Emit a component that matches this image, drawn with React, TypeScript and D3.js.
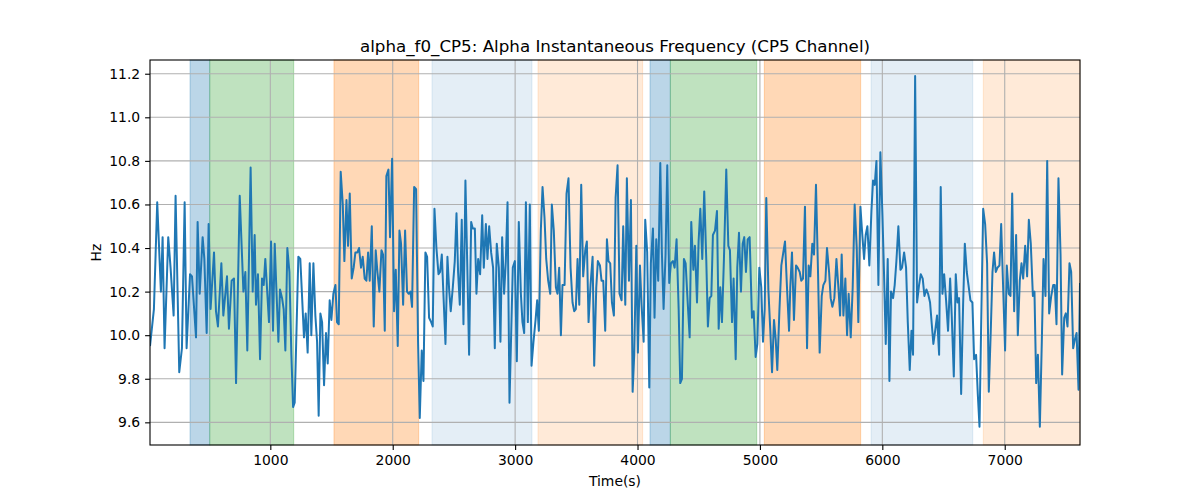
import { useRef, useEffect } from "react";
import * as d3 from "d3";

const TITLE = "alpha_f0_CP5: Alpha Instantaneous Frequency (CP5 Channel)";

// time (s) of each vertex of the frequency trace
const TIMES = [
  17, 49, 76, 106, 120, 136, 166, 185, 210, 226, 256, 278, 300, 316, 344, 360, 393, 406, 423, 447,
  461, 480, 496, 512, 540, 556, 572, 600, 616, 646, 662, 684, 703, 720, 750, 780, 796, 812, 839, 856,
  872, 883, 899, 916, 932, 946, 959, 989, 1006, 1022, 1036,
  1049, 1066, 1079, 1096, 1109, 1123, 1139, 1156, 1172, 1186, 1199, 1229, 1245, 1275, 1289, 1305, 1322, 1335, 1352, 1368,
  1382, 1395, 1409, 1423, 1439, 1455, 1469, 1485, 1499, 1515, 1532, 1545, 1559, 1575, 1592, 1605, 1622, 1635, 1649, 1665,
  1681, 1695, 1711, 1725, 1741, 1755, 1771, 1785, 1799, 1812, 1829, 1845, 1861, 1875, 1891, 1908, 1921, 1935, 1948, 1965,
  1978, 1995, 2011,
  2025, 2041, 2055, 2068, 2085, 2101, 2117, 2131, 2145, 2158, 2175, 2191, 2207, 2221, 2237, 2251, 2267, 2281, 2297, 2314,
  2327, 2341, 2357, 2374, 2387, 2401, 2414, 2431, 2447, 2461, 2474, 2491, 2507, 2521, 2534, 2548, 2564, 2578, 2594, 2608,
  2624, 2641, 2654, 2671, 2684, 2698, 2714, 2731, 2744, 2761, 2774, 2788, 2804, 2820, 2834, 2850, 2867, 2880, 2894, 2910,
  2924, 2938, 2954,
  2981, 2998, 3014, 3030, 3047, 3060, 3074, 3088, 3104, 3120, 3134, 3150, 3167, 3180, 3194, 3210, 3224, 3240, 3254, 3270,
  3287, 3300, 3316, 3333, 3346, 3360, 3374, 3387, 3404, 3420, 3436, 3453, 3469, 3483, 3496, 3510, 3524, 3540, 3556, 3573,
  3586, 3600, 3616, 3633, 3646, 3663, 3676, 3693, 3706, 3720, 3736, 3750, 3763, 3777, 3791, 3807, 3821, 3837, 3853, 3870,
  3883, 3900, 3913, 3930, 3946, 3960,
  3973, 3990, 4003, 4020, 4033, 4050, 4063, 4079, 4096, 4109, 4126, 4139, 4153, 4169, 4186, 4199, 4213, 4229, 4243, 4259,
  4273, 4289, 4303, 4319, 4336, 4349, 4363, 4379, 4393, 4409, 4426, 4439, 4456, 4469, 4486, 4499, 4513, 4529, 4545, 4562,
  4575, 4589, 4603, 4616, 4633, 4649, 4663, 4676, 4690, 4706, 4725, 4742, 4755, 4772, 4785, 4802, 4815, 4829, 4845, 4859,
  4872, 4886, 4900, 4916,
  4935, 4949, 4965, 4979, 4995, 5011, 5025, 5039, 5052, 5069, 5085, 5099, 5115, 5129, 5142, 5159, 5175, 5191, 5205, 5221,
  5238, 5248, 5262, 5278, 5295, 5308, 5325, 5338, 5352, 5368, 5385, 5398, 5412, 5428, 5442, 5458, 5475, 5488, 5505, 5518,
  5535, 5548, 5565, 5578, 5592, 5608, 5625, 5641, 5655, 5668, 5682, 5698, 5712, 5725, 5742, 5758, 5774, 5791, 5804, 5821,
  5834, 5851, 5864, 5878, 5894, 5911,
  5924, 5938, 5952, 5968, 5984, 6001, 6014, 6028, 6044, 6058, 6071, 6088, 6101, 6115, 6131, 6148, 6161, 6178, 6194, 6208,
  6224, 6238, 6251, 6268, 6284, 6300, 6314, 6330, 6344, 6360, 6374, 6390, 6404, 6417, 6434, 6447, 6464, 6477, 6491, 6505,
  6521, 6537, 6554, 6567, 6584, 6600, 6614, 6627, 6644, 6660, 6674, 6690, 6704, 6720, 6736, 6750, 6766, 6780, 6794, 6807,
  6824, 6840,
  6856, 6870, 6886, 6900, 6913, 6927, 6941, 6957, 6971, 6987, 7003, 7017, 7033, 7047, 7061, 7077, 7093, 7107, 7123, 7137,
  7151, 7167, 7183, 7197, 7213, 7230, 7243, 7257, 7271, 7287, 7303, 7317, 7333, 7347, 7363, 7380, 7396, 7409, 7423, 7439,
  7456, 7469, 7486, 7499, 7513, 7529, 7543, 7559, 7573, 7587, 7603, 7615,
];

// instantaneous alpha frequency (Hz)
const HZ = [
  9.95, 10.12, 10.61, 10.2, 10.45, 9.94, 10.45, 10.31, 10.09, 10.64, 9.83, 9.94, 10.61, 9.94, 10.28, 10.27, 9.99, 10.52, 10.19, 10.45,
  10.35, 10.01, 10.51, 10.12, 10.38, 10.11, 10.04, 10.33, 10.09, 10.27, 10.03, 10.25, 10.26, 9.78, 10.64, 10.2, 10.29, 9.93, 10.77, 10.2,
  10.46, 10.14, 10.28, 9.89, 10.26, 10.23, 10.35, 10.06, 10.43, 10.02, 10.42,
  10.22, 9.97, 10.21, 10.17, 10.12, 9.93, 10.4, 10.29, 9.91, 9.67, 9.69, 10.36, 10.35, 9.99, 10.1, 9.92, 10.33, 10.0, 10.33, 10.09,
  9.97, 9.63, 10.1, 10.06, 9.77, 10.01, 9.87, 10.16, 10.07, 10.19, 10.23, 10.06, 10.05, 10.75, 10.6, 10.34, 10.62, 10.41, 10.65, 10.26,
  10.31, 10.38, 10.38, 10.4, 10.31, 10.36, 10.26, 10.25, 10.38, 10.25, 10.5, 10.04, 10.39, 10.29, 10.2, 10.39, 10.37, 10.02, 10.73, 10.76,
  10.45, 10.81, 10.11,
  10.3, 9.95, 10.48, 10.42, 10.14, 10.48, 10.2, 10.19, 10.2, 10.13, 10.68, 10.67, 9.97, 9.62, 9.93, 9.79, 10.38, 10.36, 10.08, 10.06,
  10.04, 10.58, 10.4, 10.28, 10.29, 10.37, 10.19, 9.96, 10.36, 10.21, 10.11, 10.22, 10.34, 10.56, 10.29, 10.14, 10.53, 10.05, 10.71, 10.35,
  9.91, 10.52, 10.49, 10.49, 10.19, 10.35, 10.28, 10.55, 10.31, 10.51, 10.35, 10.5, 10.38, 10.31, 9.94, 10.42, 10.31, 9.97, 10.45, 10.19,
  10.34, 10.61, 9.69,
  10.31, 10.34, 9.88, 10.52, 10.19, 10.06, 10.01, 10.61, 10.06, 10.6, 9.86, 9.97, 10.07, 10.16, 10.02, 10.48, 10.68, 10.54, 10.35, 10.25,
  10.19, 10.6, 10.48, 10.22, 10.19, 10.31, 10.0, 10.23, 10.23, 10.65, 10.72, 10.31, 10.15, 10.11, 10.12, 10.35, 10.14, 10.69, 10.27, 10.39,
  10.43, 10.06, 10.23, 10.36, 9.86, 10.22, 10.34, 10.32, 10.25, 10.25, 10.02, 10.44, 10.34, 10.33, 10.15, 10.09, 10.63, 10.78, 10.19, 10.16,
  10.5, 10.14, 10.72, 10.25, 10.62, 9.74,
  9.91, 10.41, 9.92, 10.32, 10.14, 9.97, 10.53, 10.38, 9.76, 10.33, 10.49, 10.08, 10.44, 10.25, 10.79, 10.38, 10.12, 10.37, 10.78, 10.24,
  10.33, 10.34, 10.31, 10.44, 10.12, 9.78, 9.8, 10.35, 10.33, 10.16, 9.99, 10.52, 10.3, 10.41, 10.15, 10.43, 10.58, 10.35, 10.66, 10.34,
  10.04, 10.17, 10.18, 10.46, 10.48, 10.57, 10.03, 10.22, 10.06, 10.35, 10.76, 10.41, 10.39, 10.06, 10.26, 9.89, 10.31, 10.47, 10.2, 10.42,
  10.45, 10.29, 10.44, 10.45,
  10.08, 10.11, 9.9, 9.96, 10.31, 10.22, 9.97, 10.12, 10.63, 10.21, 10.02, 9.83, 10.07, 9.98, 9.84, 10.11, 10.32, 10.38, 10.43, 10.22,
  10.02, 10.22, 10.38, 10.07, 10.32, 10.31, 10.29, 10.25, 10.26, 10.59, 9.94, 10.32, 10.27, 10.42, 10.37, 10.69, 10.28, 9.92, 10.18, 10.23,
  10.25, 10.4, 10.29, 10.17, 10.13, 10.17, 10.35, 10.22, 10.09, 10.37, 10.09, 10.26, 10.0, 10.19, 9.99, 10.22, 10.6, 10.4, 10.06, 10.59,
  10.48, 10.35, 10.46, 10.5, 10.32, 10.57,
  10.71, 10.69, 10.8, 10.23, 10.84, 10.55, 10.28, 9.96, 10.35, 9.79, 10.2, 10.17, 10.23, 10.34, 10.5, 10.3, 10.31, 10.38, 10.31, 10.06,
  9.84, 10.02, 9.91, 11.19, 10.15, 10.23, 10.28, 10.26, 10.18, 10.21, 10.19, 10.15, 10.05, 9.96, 10.03, 10.09, 9.91, 10.68, 10.19, 10.28,
  10.16, 10.02, 10.26, 10.09, 9.81, 10.28, 10.15, 10.17, 9.73, 10.14, 10.42, 10.29, 10.23, 10.16, 10.15, 9.89, 9.91, 9.73, 9.58, 10.03,
  10.58, 10.51,
  10.33, 9.74, 10.02, 10.29, 10.38, 10.29, 10.31, 10.32, 10.51, 10.22, 9.93, 10.32, 10.19, 10.18, 10.65, 10.11, 10.46, 10.0, 10.25, 10.33,
  10.26, 10.41, 10.27, 10.53, 10.42, 10.18, 10.2, 9.78, 9.91, 9.58, 9.97, 10.35, 10.18, 10.8, 10.1, 10.18, 10.23, 10.23, 10.05, 10.72,
  10.37, 9.82, 10.08, 10.1, 10.04, 10.33, 10.29, 9.94, 9.98, 10.01, 9.75, 10.24,
];

// shaded state spans: start, end (s) and fill
const SPAN_START = [344, 505, 1520, 2321, 3187, 4102, 4268, 5036, 5908, 6825];
const SPAN_END = [505, 1191, 2212, 3138, 4042, 4268, 4974, 5823, 6739, 7615];
const SPAN_COLOR = ["#1f77b4", "#2ca02c", "#ff7f0e", "#1f77b4", "#ff7f0e", "#1f77b4", "#2ca02c", "#ff7f0e", "#1f77b4", "#ff7f0e"];
const SPAN_ALPHA = [0.3, 0.3, 0.3, 0.12, 0.16, 0.3, 0.3, 0.3, 0.12, 0.16];

const X_TICKS = [1000, 2000, 3000, 4000, 5000, 6000, 7000];
const Y_TICKS = [9.6, 9.8, 10.0, 10.2, 10.4, 10.6, 10.8, 11.0, 11.2];

export default function App() {
  const svgRef = useRef<SVGSVGElement>(null);

  useEffect(() => {
    if (!svgRef.current) return;
    const width = 1200;
    const height = 500;
    const m = { top: 60, right: 120, bottom: 55, left: 150 };
    const font = "DejaVu Sans, sans-serif";

    const svg = d3.select(svgRef.current);
    svg.selectAll("*").remove();
    svg.attr("width", width).attr("height", height);

    const x = d3.scaleLinear().domain([17, 7615]).range([m.left, width - m.right]);
    const y = d3.scaleLinear().domain([9.496, 11.263]).range([height - m.bottom, m.top]);

    svg.append("rect").attr("width", width).attr("height", height).attr("fill", "#fff");

    // state spans
    svg
      .append("g")
      .selectAll("rect")
      .data(SPAN_START)
      .join("rect")
      .attr("x", (d) => x(d))
      .attr("y", m.top)
      .attr("width", (d, i) => x(SPAN_END[i]) - x(d))
      .attr("height", height - m.bottom - m.top)
      .attr("fill", (_, i) => SPAN_COLOR[i])
      .attr("fill-opacity", (_, i) => SPAN_ALPHA[i])
      .attr("stroke", (_, i) => SPAN_COLOR[i])
      .attr("stroke-opacity", (_, i) => SPAN_ALPHA[i])
      .attr("stroke-width", 1);

    // grid
    const grid = svg.append("g").attr("stroke", "#b0b0b0").attr("stroke-width", 1.1);
    grid
      .selectAll("line.gx")
      .data(X_TICKS)
      .join("line")
      .attr("class", "gx")
      .attr("x1", (d) => x(d))
      .attr("x2", (d) => x(d))
      .attr("y1", m.top)
      .attr("y2", height - m.bottom);
    grid
      .selectAll("line.gy")
      .data(Y_TICKS)
      .join("line")
      .attr("class", "gy")
      .attr("x1", m.left)
      .attr("x2", width - m.right)
      .attr("y1", (d) => y(d))
      .attr("y2", (d) => y(d));

    // trace
    const pts = TIMES.map((t, i) => [t, HZ[i]] as [number, number]);
    svg
      .append("defs")
      .append("clipPath")
      .attr("id", "plot-clip")
      .append("rect")
      .attr("x", m.left)
      .attr("y", m.top)
      .attr("width", width - m.left - m.right)
      .attr("height", height - m.top - m.bottom);
    svg
      .append("path")
      .datum(pts)
      .attr("clip-path", "url(#plot-clip)")
      .attr("fill", "none")
      .attr("stroke", "#1f77b4")
      .attr("stroke-width", 2)
      .attr("stroke-linejoin", "round")
      .attr("d", d3.line<[number, number]>().x((d) => x(d[0])).y((d) => y(d[1])));

    // axes
    const xAxis = svg
      .append("g")
      .attr("transform", `translate(0,${height - m.bottom})`)
      .call(d3.axisBottom(x).tickValues(X_TICKS).tickFormat(d3.format("d")).tickSize(4.9).tickPadding(4.9));
    const yAxis = svg
      .append("g")
      .attr("transform", `translate(${m.left},0)`)
      .call(d3.axisLeft(y).tickValues(Y_TICKS).tickFormat(d3.format(".1f")).tickSize(4.9).tickPadding(4.9));
    [xAxis, yAxis].forEach((g) => {
      g.select(".domain").remove();
      g.selectAll("line").attr("stroke", "#000").attr("stroke-width", 1.1);
      g.selectAll("text").attr("fill", "#000").style("font-family", font).style("font-size", "13.9px");
    });

    svg
      .append("rect")
      .attr("x", m.left)
      .attr("y", m.top)
      .attr("width", width - m.left - m.right)
      .attr("height", height - m.top - m.bottom)
      .attr("fill", "none")
      .attr("stroke", "#000")
      .attr("stroke-width", 1.1);

    svg
      .append("text")
      .attr("x", (m.left + width - m.right) / 2)
      .attr("y", 52)
      .attr("text-anchor", "middle")
      .style("font-family", font)
      .style("font-size", "16.7px")
      .text(TITLE);

    svg
      .append("text")
      .attr("x", (m.left + width - m.right) / 2)
      .attr("y", 486)
      .attr("text-anchor", "middle")
      .style("font-family", font)
      .style("font-size", "13.9px")
      .text("Time(s)");

    svg
      .append("text")
      .attr("transform", `translate(101,${(m.top + height - m.bottom) / 2}) rotate(-90)`)
      .attr("text-anchor", "middle")
      .style("font-family", font)
      .style("font-size", "13.9px")
      .text("Hz");
  }, []);

  return <svg ref={svgRef} style={{ position: "fixed", left: 0, top: 0, display: "block" }} />;
}
